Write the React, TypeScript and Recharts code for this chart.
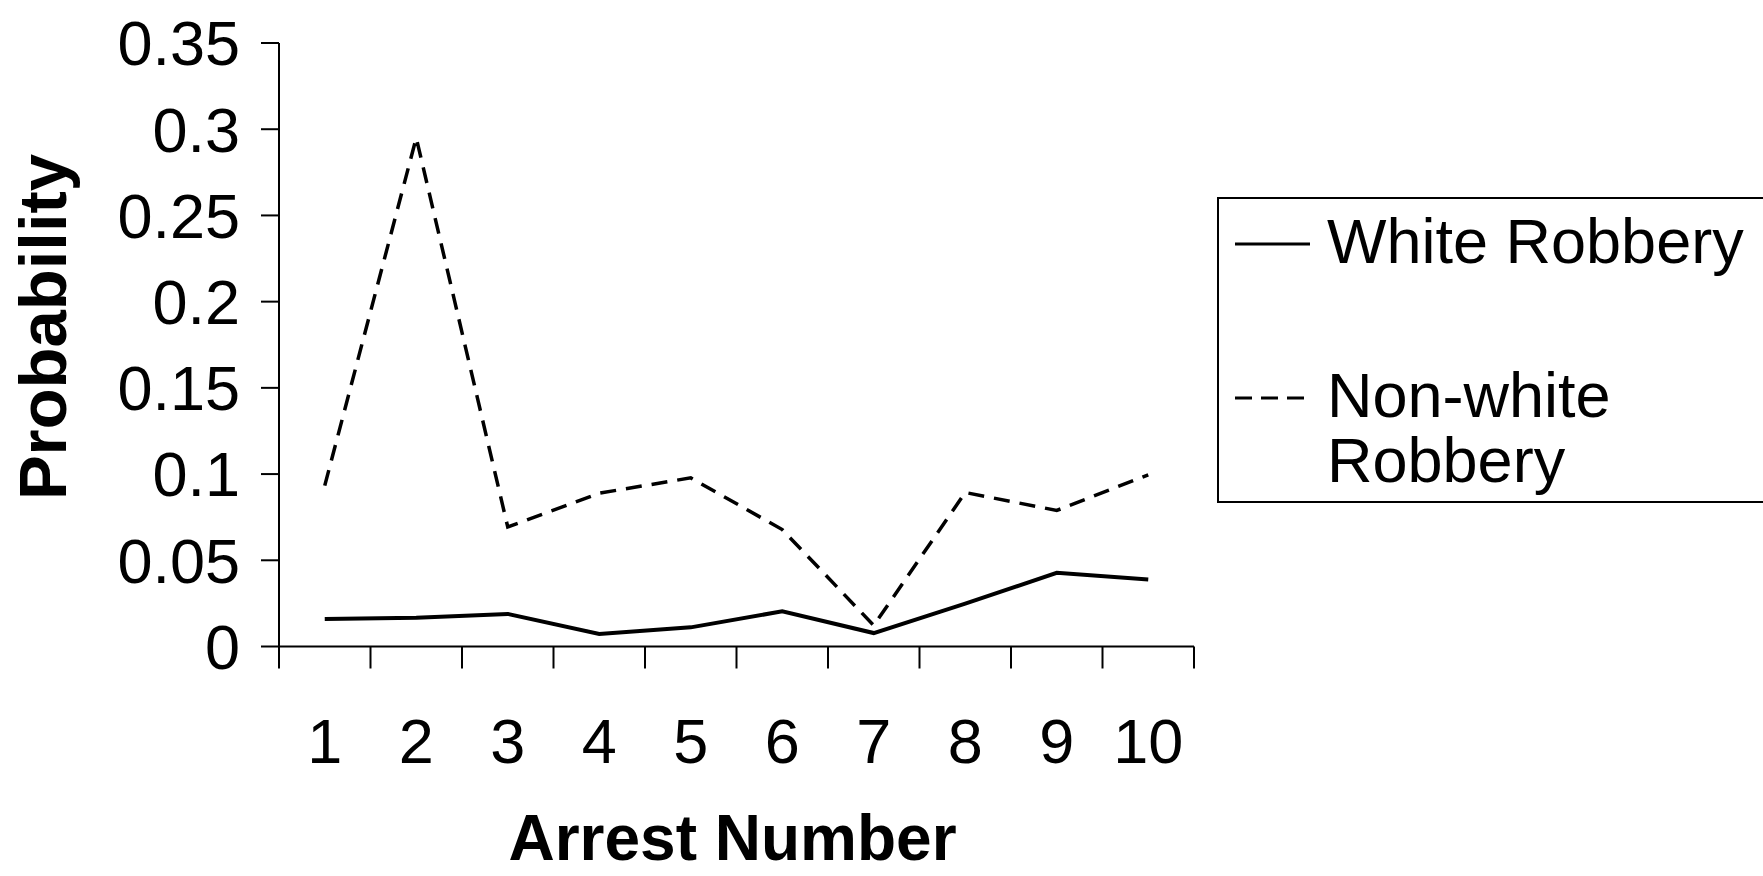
import { LineChart, Line, XAxis, YAxis, Legend } from 'recharts';

const arrestNumbers = [1, 2, 3, 4, 5, 6, 7, 8, 9, 10];
const whiteRobbery = [0.016, 0.0167, 0.0189, 0.0073, 0.0111, 0.0204, 0.0078, 0.0249, 0.0427, 0.0389];
const nonWhiteRobbery = [0.0933, 0.295, 0.0693, 0.0889, 0.0978, 0.0678, 0.0122, 0.0893, 0.0789, 0.0996];
const probabilityTicks = [0, 0.05, 0.1, 0.15, 0.2, 0.25, 0.3, 0.35];
const edgeTicks = [0.5, 1.5, 2.5, 3.5, 4.5, 5.5, 6.5, 7.5, 8.5, 9.5, 10.5];

const seriesNames = ['White Robbery', 'Non-white Robbery'];

const data = arrestNumbers.map((n, i) => ({
  arrest: n,
  white: whiteRobbery[i],
  nonWhite: nonWhiteRobbery[i],
}));

const FONT = '"Liberation Sans", Arial, sans-serif';

// legend box: the right border runs past the edge of the picture
function LegendBox() {
  return (
    <div
      style={{
        position: 'relative',
        width: 560,
        height: 306,
        border: '2px solid #000',
        boxSizing: 'border-box',
        background: '#fff',
        fontFamily: FONT,
        fontSize: 63,
        color: '#000',
        lineHeight: '65px',
      }}
    >
      <svg style={{ position: 'absolute', left: 16, top: 35 }} width={80} height={20}>
        <line x1={0} y1={10} x2={75} y2={10} stroke="#000" strokeWidth={3} />
      </svg>
      <div style={{ position: 'absolute', left: 108, top: 10, whiteSpace: 'nowrap' }}>{seriesNames[0]}</div>
      <svg style={{ position: 'absolute', left: 16, top: 189 }} width={80} height={20}>
        <line x1={0} y1={10} x2={75} y2={10} stroke="#000" strokeWidth={3} strokeDasharray="17 9" />
      </svg>
      <div style={{ position: 'absolute', left: 108, top: 164 }}>
        Non-white
        <br />
        Robbery
      </div>
    </div>
  );
}

export default function App() {
  return (
    <div style={{ position: 'absolute', left: 0, top: 0, background: '#fff' }}>
      <LineChart
        width={1763}
        height={876}
        data={data}
        margin={{ top: 43, right: 569, left: 0, bottom: 0 }}
      >
        <XAxis
          xAxisId="edges"
          type="number"
          dataKey="arrest"
          domain={[0.5, 10.5]}
          ticks={edgeTicks}
          interval={0}
          tick={() => <g />}
          tickSize={22}
          height={25}
          stroke="#000"
          strokeWidth={2}
        />
        <XAxis
          xAxisId="labels"
          type="number"
          dataKey="arrest"
          domain={[0.5, 10.5]}
          ticks={arrestNumbers}
          interval={0}
          axisLine={false}
          tickLine={false}
          tickMargin={41}
          height={204.5}
          tick={{ fontSize: 63, fill: '#000', fontFamily: FONT }}
          label={({ viewBox }: any) => (
            <text
              x={viewBox.x + viewBox.width / 2 - 4}
              y={860}
              textAnchor="middle"
              fontFamily={FONT}
              fontWeight="bold"
              fontSize={64}
              fill="#000"
            >
              Arrest Number
            </text>
          )}
        />
        <YAxis
          type="number"
          domain={[0, 0.35]}
          ticks={probabilityTicks}
          interval={0}
          width={279}
          tickSize={18}
          tickMargin={21}
          stroke="#000"
          strokeWidth={2}
          tick={{ fontSize: 63, fill: '#000', fontFamily: FONT }}
          label={() => (
            <text
              x={66}
              y={327}
              transform="rotate(-90 66 327)"
              textAnchor="middle"
              fontFamily={FONT}
              fontWeight="bold"
              fontSize={67}
              fill="#000"
            >
              Probability
            </text>
          )}
        />
        <Legend
          layout="vertical"
          align="center"
          verticalAlign="middle"
          wrapperStyle={{ left: 1217, top: 197, width: 560, height: 306 }}
          content={() => <LegendBox />}
        />
        <Line
          xAxisId="labels"
          type="linear"
          dataKey="white"
          name={seriesNames[0]}
          stroke="#000"
          strokeWidth={4}
          dot={false}
          isAnimationActive={false}
        />
        <Line
          xAxisId="labels"
          type="linear"
          dataKey="nonWhite"
          name={seriesNames[1]}
          stroke="#000"
          strokeWidth={3.5}
          strokeDasharray="16 10"
          dot={false}
          isAnimationActive={false}
        />
      </LineChart>
    </div>
  );
}
